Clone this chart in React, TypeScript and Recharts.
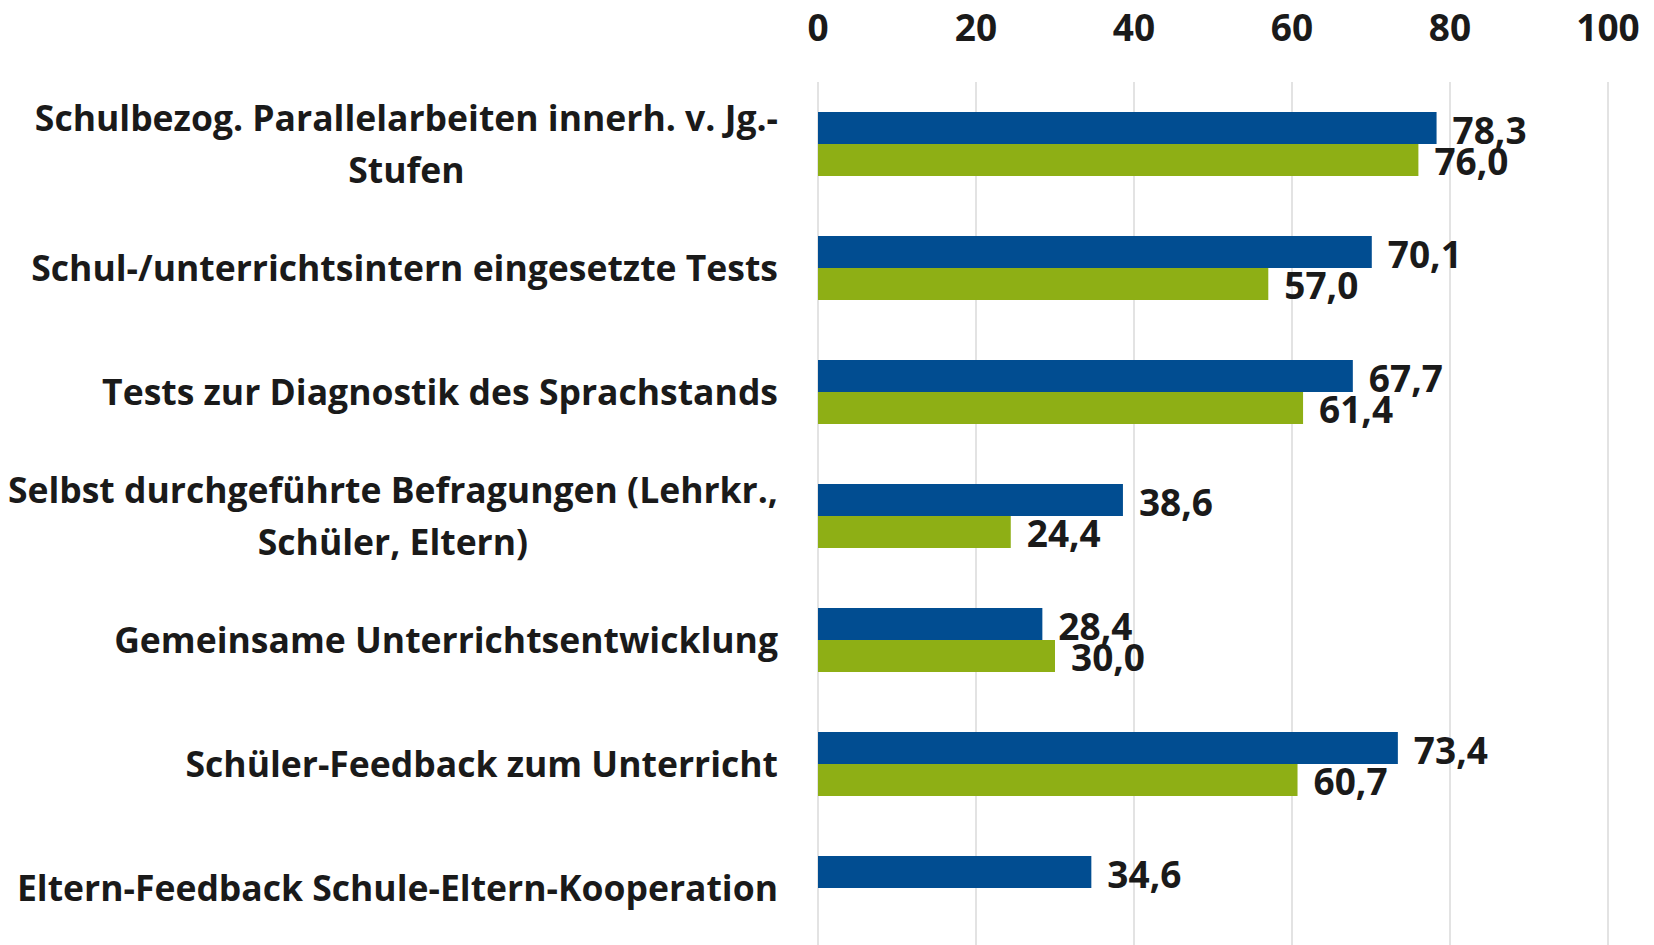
import { BarChart, Bar, XAxis, YAxis, CartesianGrid, LabelList } from 'recharts';

const categories = [
  'Schulbezog. Parallelarbeiten innerh. v. Jg.-\nStufen',
  'Schul-/unterrichtsintern eingesetzte Tests',
  'Tests zur Diagnostik des Sprachstands',
  'Selbst durchgeführte Befragungen (Lehrkr.,\nSchüler, Eltern)',
  'Gemeinsame Unterrichtsentwicklung',
  'Schüler-Feedback zum Unterricht',
  'Eltern-Feedback Schule-Eltern-Kooperation',
];
const blueValues = [78.3, 70.1, 67.7, 38.6, 28.4, 73.4, 34.6];
const greenValues = [76.0, 57.0, 61.4, 24.4, 30.0, 60.7, null];
const xTicks = [0, 20, 40, 60, 80, 100];

const FONT = "'Open Sans', sans-serif";
const BLUE = '#014D91';
const GREEN = '#8EAF15';
const INK = '#1a1a1a';

const data = categories.map((name, i) => ({
  name,
  blue: blueValues[i],
  green: greenValues[i],
}));

let ctx: CanvasRenderingContext2D | null = null;
function textWidth(s: string, size: number) {
  if (!ctx) ctx = document.createElement('canvas').getContext('2d');
  if (!ctx) return s.length * size * 0.5;
  ctx.font = `bold ${size}px ${FONT}`;
  return ctx.measureText(s).width;
}

// multi-line labels: block right-aligned, lines centred inside it
function CategoryTick({ x, y, payload }: any) {
  const lines: string[] = String(payload.value).split('\n');
  const size = 35.5;
  const lh = 52;
  const right = x - 32;
  const w = Math.max(...lines.map((l) => textWidth(l, size)));
  const cx = right - w / 2;
  const y0 = y - 1 - ((lines.length - 1) * lh) / 2;
  return (
    <g>
      {lines.map((l, i) => (
        <text
          key={i}
          x={cx}
          y={y0 + i * lh}
          textAnchor="middle"
          dominantBaseline="central"
          fontFamily={FONT}
          fontWeight="bold"
          fontSize={size}
          fill={INK}
        >
          {l}
        </text>
      ))}
    </g>
  );
}

function ValueTick({ x, payload }: any) {
  return (
    <text
      x={x}
      y={26}
      textAnchor="middle"
      dominantBaseline="central"
      fontFamily={FONT}
      fontWeight="bold"
      fontSize={37}
      fill={INK}
    >
      {payload.value}
    </text>
  );
}

const fmt = (v: any) => (v == null ? '' : Number(v).toFixed(1).replace('.', ','));
const labelStyle = { fontFamily: FONT, fontWeight: 'bold', fontSize: 37, fill: INK };

export default function App() {
  return (
    <div style={{ position: 'absolute', left: 0, top: 0, background: '#fff' }}>
      <BarChart
        width={1654}
        height={950}
        data={data}
        layout="vertical"
        margin={{ top: 0, right: 46, bottom: 0, left: 0 }}
        barSize={32}
        barGap={0}
      >
        <CartesianGrid horizontal={false} stroke="#E3E3E3" strokeWidth={2} />
        <XAxis
          type="number"
          orientation="top"
          domain={[0, 100]}
          ticks={xTicks}
          height={82}
          axisLine={false}
          tickLine={false}
          tick={<ValueTick />}
          interval={0}
        />
        <YAxis
          type="category"
          dataKey="name"
          width={818}
          axisLine={false}
          tickLine={false}
          tick={<CategoryTick />}
          interval={0}
        />
        <Bar dataKey="blue" fill={BLUE} isAnimationActive={false}>
          <LabelList dataKey="blue" position="right" offset={16} dy={3} formatter={fmt} style={labelStyle} />
        </Bar>
        <Bar dataKey="green" fill={GREEN} isAnimationActive={false}>
          <LabelList dataKey="green" position="right" offset={16} dy={2} formatter={fmt} style={labelStyle} />
        </Bar>
      </BarChart>
    </div>
  );
}
